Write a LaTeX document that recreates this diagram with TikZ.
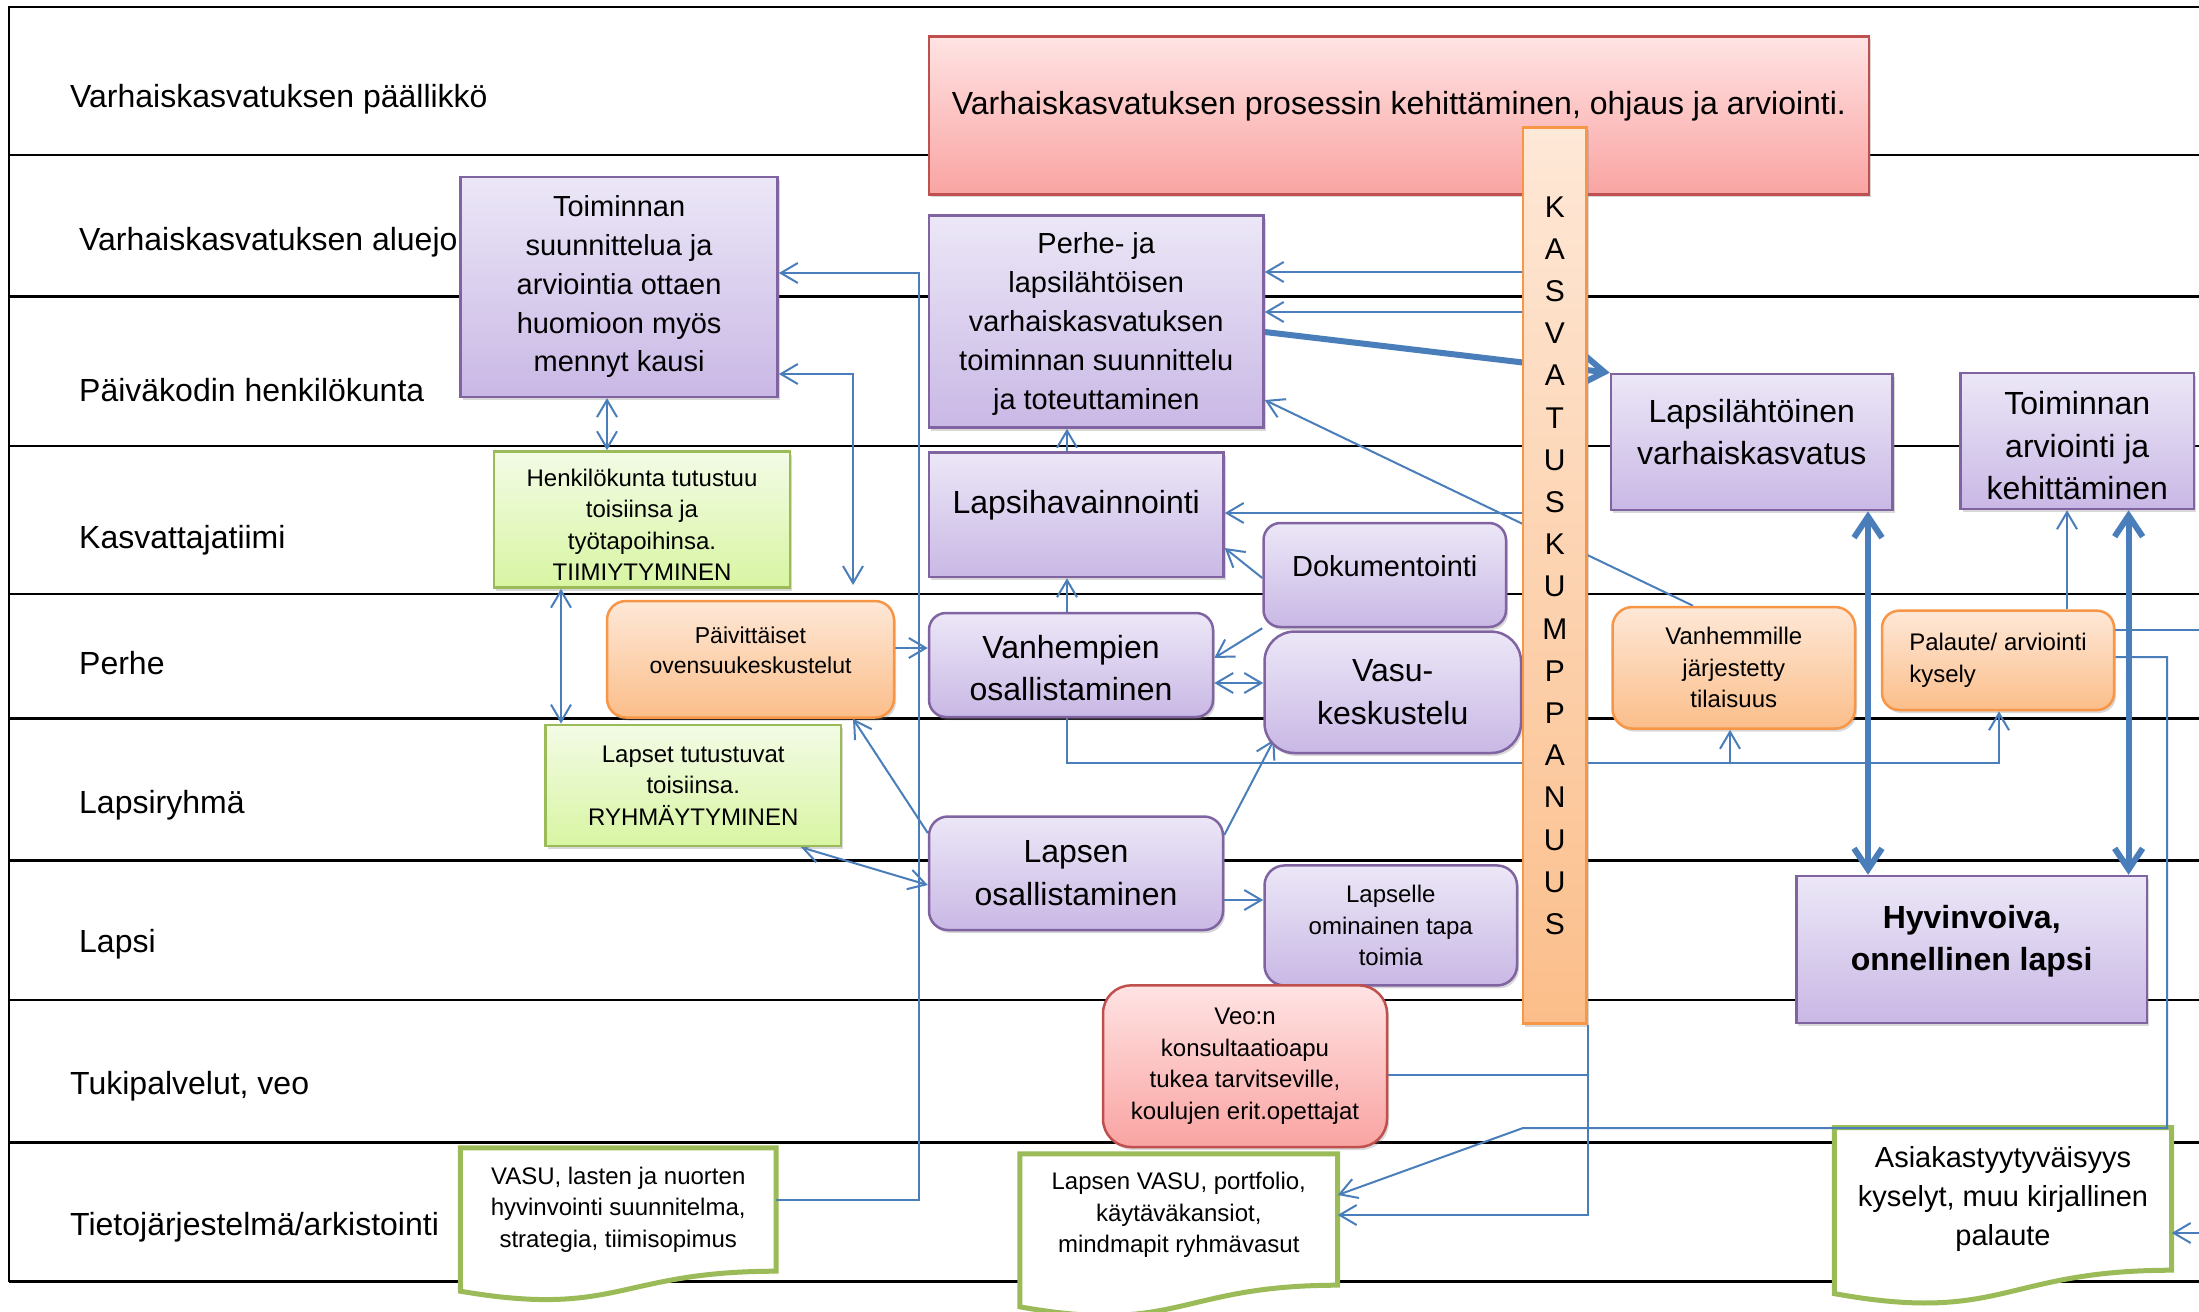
\documentclass[tikz,border=0pt]{standalone}
\usepackage{fontspec}
\setmainfont{Liberation Sans}
\usetikzlibrary{arrows.meta,shadows}
\pgfdeclarelayer{lanes}
\pgfdeclarelayer{docs}
\pgfdeclarelayer{wires}
\pgfsetlayers{lanes,docs,wires,main}
\definecolor{linkblue}{HTML}{4A7EBB}
\definecolor{purpleline}{HTML}{8064A2}
\definecolor{purpletop}{HTML}{ECE7F7}
\definecolor{purplebot}{HTML}{C9B8E5}
\definecolor{redline}{HTML}{C0504D}
\definecolor{redtop}{HTML}{FFE3E3}
\definecolor{redbot}{HTML}{F9A4A2}
\definecolor{orangeline}{HTML}{F79646}
\definecolor{orangetop}{HTML}{FEE8D7}
\definecolor{orangebot}{HTML}{FBBE8A}
\definecolor{greenline}{HTML}{9BBB59}
\definecolor{greentop}{HTML}{F3FBE6}
\definecolor{greenbot}{HTML}{D8F5A2}
\newcommand{\lowpad}[1]{\rule[-#1pt]{0pt}{#1pt}}
\newcommand{\highpad}[1]{\rule{0pt}{#1pt}}

\begin{document}
\begin{tikzpicture}[x=1pt, y=-1pt,
	lane/.style={line width=2.5pt},
	lanetext/.style={anchor=west, inner sep=0pt, font=\fontsize{32}{40}\selectfont},
	box/.style={line width=2.5pt, align=center, inner sep=0pt,
		drop shadow={shadow xshift=2pt, shadow yshift=-3pt, opacity=0.3}},
	purplebox/.style={box, draw=purpleline, top color=purpletop, bottom color=purplebot},
	redbox/.style={box, draw=redline, top color=redtop, bottom color=redbot},
	orangebox/.style={box, draw=orangeline, top color=orangetop, bottom color=orangebot},
	greenbox/.style={box, draw=greenline, top color=greentop, bottom color=greenbot},
	docbox/.style={align=center, inner sep=0pt},
	docline/.style={draw=greenline, fill=white, line width=5pt},
	bigtext/.style={font=\fontsize{32}{42.5}\selectfont},
	midtext/.style={font=\fontsize{29}{38.8}\selectfont},
	smalltext/.style={font=\fontsize{24}{31.5}\selectfont},
	conn/.style={draw=linkblue, line width=2pt},
	fatconn/.style={draw=linkblue, line width=6pt},
	barb/.tip={Straight Barb[length=17pt, width=20pt]},
	bigbarb/.tip={Straight Barb[length=21pt, width=28pt]}]
	\useasboundingbox (0,0) rectangle (2199,1311);
	\clip (0,0) rectangle (2199,1311);

	\begin{pgfonlayer}{lanes}
	\fill[white] (0,0) rectangle (2199,1311);
	\draw[lane] (9,1281.5) -- (9,7) -- (2199,7);
	\foreach \y in {155,296.5,446,594,718.4,860.6,1000,1142.7,1281.5}
		\draw[lane] (9,\y) -- (2199,\y);
	\draw (70,99) node[lanetext] (paallikko) {Varhaiskasvatuksen päällikkö};
	\draw (79,242) node[lanetext] (aluejohto) {Varhaiskasvatuksen aluejo};
	\draw (79,390) node[lanetext] (henkilosto) {Päiväkodin henkilökunta};
	\draw (79,540) node[lanetext] (tiimi) {Kasvattajatiimi};
	\draw (79,663) node[lanetext] (perherivi) {Perhe};
	\draw (79,805) node[lanetext] (ryhma) {Lapsiryhmä};
	\draw (79,944) node[lanetext] (lapsi) {Lapsi};
	\draw (70,1086) node[lanetext] (tuki) {Tukipalvelut, veo};
	\draw (70,1227) node[lanetext] (arkisto) {Tietojärjestelmä/arkistointi};
	\end{pgfonlayer}

	\draw (1399,115.4) node[redbox, bigtext, minimum width=940pt, minimum height=158pt] (kehitys) {Varhaiskasvatuksen prosessin kehittäminen, ohjaus ja arviointi.\lowpad{25}};
	\draw (619.1,286.85) node[purplebox, midtext, minimum width=317pt, minimum height=220pt] (toim1) {Toiminnan\\suunnittelua ja\\arviointia ottaen\\huomioon myös\\mennyt kausi};
	\draw (1096.25,321.5) node[purplebox, midtext, minimum width=334.5pt, minimum height=212pt] (perhe) {\highpad{26}Perhe- ja\\lapsilähtöisen\\varhaiskasvatuksen\\toiminnan suunnittelu\\ja toteuttaminen};
	\draw (642,519.5) node[greenbox, smalltext, minimum width=296pt, minimum height=136pt] (henk) {\highpad{28}Henkilökunta tutustuu\\toisiinsa ja\\työtapoihinsa.\\TIIMIYTYMINEN};
	\draw (1076.25,514.85) node[purplebox, bigtext, minimum width=294.5pt, minimum height=124.3pt] (lapsihav) {Lapsihavainnointi\lowpad{25}};
	\draw (1384.75,575) node[purplebox, midtext, rounded corners=17pt, minimum width=242.5pt, minimum height=104pt] (doku) {Dokumentointi\lowpad{18}};
	\draw (1751.75,442) node[purplebox, bigtext, minimum width=281.5pt, minimum height=136pt] (lapsil) {Lapsilähtöinen\\varhaiskasvatus\lowpad{20}};
	\draw (2077.25,441) node[purplebox, bigtext, minimum width=233.5pt, minimum height=136pt] (toim2) {\highpad{33}Toiminnan\\arviointi ja\\kehittäminen};
	\draw (750.5,659.25) node[orangebox, font=\fontsize{23}{30}\selectfont, rounded corners=19pt, minimum width=287pt, minimum height=116.5pt] (paiv) {Päivittäiset\\ovensuukeskustelut\lowpad{18}};
	\draw (1071,665) node[purplebox, bigtext, rounded corners=17pt, minimum width=284pt, minimum height=104pt] (vanh) {\highpad{29}Vanhempien\\osallistaminen};
	\draw (1392.75,692.3) node[purplebox, bigtext, rounded corners=30pt, minimum width=256.5pt, minimum height=121.4pt] (vasu) {Vasu-\\keskustelu};
	\draw (1733.75,667.8) node[orangebox, smalltext, rounded corners=20pt, minimum width=242.5pt, minimum height=121.6pt] (vtil) {Vanhemmille\\järjestetty\\tilaisuus};
	\draw (1998,660.35) node[orangebox, smalltext, align=left, rounded corners=17pt, minimum width=232pt, minimum height=99.3pt] (palaute) {Palaute/ arviointi\\kysely};
	\draw (693.25,785.4) node[greenbox, smalltext, minimum width=295.5pt, minimum height=121.2pt] (lapset) {Lapset tutustuvat\\toisiinsa.\\RYHMÄYTYMINEN};
	\draw (1076,873.25) node[purplebox, bigtext, rounded corners=19pt, minimum width=294pt, minimum height=113.5pt] (losall) {Lapsen\\osallistaminen};
	\draw (1390.75,925.45) node[purplebox, smalltext, rounded corners=20pt, minimum width=252.5pt, minimum height=120pt] (ltapa) {Lapselle\\ominainen tapa\\toimia};
	\draw (1971.7,949.5) node[purplebox, font=\fontsize{32}{42.5}\selectfont\bfseries, minimum width=350.6pt, minimum height=147pt] (hyvin) {Hyvinvoiva,\\onnellinen lapsi\lowpad{23}};
	\draw (1245,1066.2) node[redbox, smalltext, rounded corners=28pt, minimum width=284pt, minimum height=161.6pt] (veo) {Veo:n\\konsultaatioapu\\tukea tarvitseville,\\koulujen erit.opettajat};
	\draw (1554.75,575.5) node[orangebox, font=\fontsize{30}{42.2}\selectfont, minimum width=63.5pt, minimum height=896pt] (kumpp) {K\\A\\S\\V\\A\\T\\U\\S\\K\\U\\M\\P\\P\\A\\N\\U\\U\\S\lowpad{20}};

	\draw (618.2,1209.5) node[docbox, smalltext, minimum width=315.2pt, minimum height=123pt] (vasudoc) {VASU, lasten ja nuorten\\hyvinvointi suunnitelma,\\strategia, tiimisopimus};
	\draw (1178.75,1219.5) node[docbox, smalltext, minimum width=317.5pt, minimum height=131pt] (lvasu) {Lapsen VASU, portfolio,\\käytäväkansiot,\\mindmapit ryhmävasut\lowpad{14}};
	\draw (2003,1198.85) node[docbox, midtext, minimum width=337pt, minimum height=142.3pt] (asiakas) {Asiakastyytyväisyys\\kyselyt, muu kirjallinen\\palaute};
	\begin{pgfonlayer}{docs}
	\draw[docline] (vasudoc.north west) -- (vasudoc.north east) -- (vasudoc.south east) .. controls (vasudoc.south) and ([yshift=-47pt]vasudoc.south) .. ([yshift=-20pt]vasudoc.south west) -- cycle;
	\draw[docline] (lvasu.north west) -- (lvasu.north east) -- (lvasu.south east) .. controls (lvasu.south) and ([yshift=-50pt]lvasu.south) .. ([yshift=-21.6pt]lvasu.south west) -- cycle;
	\draw[docline] (asiakas.north west) -- (asiakas.north east) -- (asiakas.south east) .. controls (asiakas.south) and ([yshift=-54pt]asiakas.south) .. ([yshift=-23.4pt]asiakas.south west) -- cycle;
	\end{pgfonlayer}

	\coordinate (tiimiloppu) at (853,585);
	\coordinate (haara) at (1730,763);
	\coordinate (ulos1) at (2199,630);
	\coordinate (ulos2) at (2199,1233);

	\begin{pgfonlayer}{wires}
	\draw[conn, -barb] (vasudoc.east |- 0,1200) -| (919,273) -- (toim1.east |- 0,273);
	\draw[conn, barb-barb] (toim1.east |- 0,374) -| (tiimiloppu);
	\draw[conn, barb-barb] (toim1.south -| 607,0) -- (henk.north -| 607,0);
	\draw[conn, barb-barb] (henk.south -| 561,0) -- (lapset.north -| 561,0);
	\draw[conn, -barb] (paiv.east |- 0,648) -- (vanh.west |- 0,648);
	\draw[conn, barb-barb] (lapset.south -| 801,0) -- (losall.west |- 0,885);
	\draw[conn, -barb] (losall.west |- 0,833) -- (paiv.south -| 853,0);
	\draw[conn, -barb] (vanh.north -| 1067,0) -- (lapsihav.south -| 1067,0);
	\draw[conn, -barb] (lapsihav.north -| 1067,0) -- (perhe.south -| 1067,0);
	\draw[conn, -barb] (doku.south west) -- (vanh.east |- 0,658);
	\draw[conn, barb-barb] (vanh.east |- 0,683) -- (vasu.west |- 0,683);
	\draw[conn, -barb] (doku.west |- 0,578) -- (lapsihav.east |- 0,548);
	\draw[conn, -barb] (losall.east |- 0,835) -- ([shift={(11pt,15pt)}]vasu.south west);
	\draw[conn, -barb] (losall.east |- 0,900) -- (ltapa.west |- 0,900);
	\draw[conn, -barb] (vanh.south -| 1067,0) |- (1999,763) -- (palaute.south -| 1999,0);
	\draw[conn, -barb] (haara) -- (vtil.south -| haara);
	\draw[conn, -barb] (vtil.north -| 1693,0) -- (perhe.east |- 0,400);
	\draw[conn, -barb] (kumpp.west |- 0,272) -- (perhe.east |- 0,272);
	\draw[conn, -barb] (kumpp.west |- 0,312) -- (perhe.east |- 0,312);
	\draw[conn, -barb] (kumpp.west |- 0,513) -- (lapsihav.east |- 0,513);
	\draw[fatconn, -bigbarb] (perhe.east |- 0,332) -- (lapsil.north west);
	\draw[fatconn, bigbarb-bigbarb] (lapsil.south -| 1868,0) -- (hyvin.north -| 1868,0);
	\draw[fatconn, bigbarb-bigbarb] (toim2.south -| 2128.6,0) -- (hyvin.north -| 2128.6,0);
	\draw[conn, -barb] (palaute.north -| 2067,0) -- (toim2.south -| 2067,0);
	\draw[conn, -barb] (palaute.east |- 0,657) -| (2167,1128) -- (1523,1128) -- (lvasu.east |- 0,1195);
	\draw[conn] (palaute.east |- 0,630) -- (ulos1);
	\draw[conn, -barb] (ulos2) -- (asiakas.east |- ulos2);
	\draw[conn, -barb] (kumpp.south east) |- (lvasu.east |- 0,1215);
	\draw[conn] (veo.east |- 0,1075) -- (kumpp.south east |- 0,1075);
	\end{pgfonlayer}
\end{tikzpicture}
\end{document}
